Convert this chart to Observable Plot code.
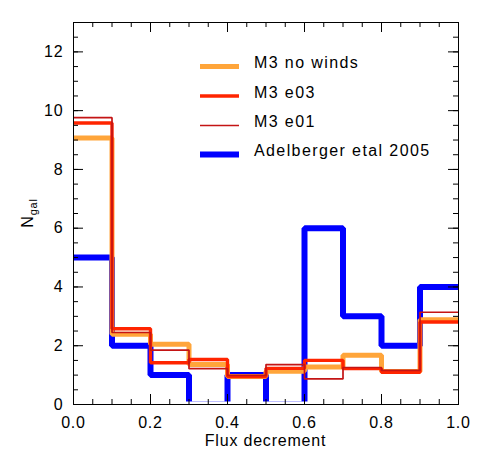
<!DOCTYPE html>
<html>
<head>
<meta charset="utf-8">
<script src="https://cdn.jsdelivr.net/npm/d3@7"></script>
<script src="https://cdn.jsdelivr.net/npm/@observablehq/plot@0.6"></script>
<style>
  html, body { margin: 0; padding: 0; background: white; }
  #chart { width: 480px; height: 450px; }
</style>
</head>
<body>
<div id="chart"></div>
<script>
// Bin edges of the flux-decrement histogram
const binEdges = [0, 0.1, 0.2, 0.3, 0.4, 0.5, 0.6, 0.7, 0.8, 0.9, 1.0];

// Counts per bin
const m3NoWinds   = [9.07, 2.39, 2.05, 1.36, 0.95, 1.13, 1.28, 1.68, 1.12, 2.88];
const m3e03       = [9.58, 2.58, 1.42, 1.53, 0.95, 1.23, 1.50, 1.22, 1.10, 2.81];
const m3e01       = [9.76, 2.45, 1.85, 1.22, 0.99, 1.36, 0.87, 1.26, 1.16, 3.14];
const adelberger  = [5, 2, 1, 0, 1, 0, 6, 3, 2, 4];

// Series labels
const seriesNames = ["M3 no winds", "M3 e03", "M3 e01", "Adelberger etal 2005"];

// Axis ticks
const xMajor = [0, 0.2, 0.4, 0.6, 0.8, 1.0];
const yMajor = [0, 2, 4, 6, 8, 10, 12];
const xMinor = d3.range(0, 1.0001, 0.05);
const yMinor = d3.range(0, 13.0001, 0.5);

const colors = ["#ffa53a", "#ff2400", "#c41414", "#0000ff"];
const widths = [5, 3.4, 1.7, 6];

function steps(values) {
  const pts = [];
  values.forEach((v, i) => {
    pts.push({x: binEdges[i], y: v});
    pts.push({x: binEdges[i + 1], y: v});
  });
  return pts;
}

const W = 480, H = 450, mL = 73, mR = 22, mT = 22, mB = 46;
const fw = W - mL - mR, fh = H - mT - mB;

const lineOpts = (i) => ({x: "x", y: "y", stroke: colors[i], strokeWidth: widths[i],
  strokeLinejoin: "miter", strokeLinecap: "butt", curve: "linear"});

const plot = Plot.plot({
  width: W, height: H,
  marginLeft: mL, marginRight: mR, marginTop: mT, marginBottom: mB,
  x: {domain: [0, 1]},
  y: {domain: [0, 13]},
  style: {fontFamily: "'Liberation Sans', Arial, sans-serif", fontSize: "16px", background: "white", color: "black"},
  marks: [
    Plot.line(steps(adelberger), lineOpts(3)),
    Plot.line(steps(m3NoWinds), lineOpts(0)),
    Plot.line(steps(m3e03), lineOpts(1)),
    Plot.line(steps(m3e01), lineOpts(2)),
    Plot.tickY(yMinor, {y: d => d, insetRight: fw - 5, stroke: "black"}),
    Plot.tickY(yMinor, {y: d => d, insetLeft: fw - 5, stroke: "black"}),
    Plot.tickY(yMajor, {y: d => d, insetRight: fw - 10, stroke: "black"}),
    Plot.tickY(yMajor, {y: d => d, insetLeft: fw - 10, stroke: "black"}),
    Plot.tickX(xMinor, {x: d => d, insetTop: fh - 5, stroke: "black"}),
    Plot.tickX(xMinor, {x: d => d, insetBottom: fh - 5, stroke: "black"}),
    Plot.tickX(xMajor, {x: d => d, insetTop: fh - 10, stroke: "black"}),
    Plot.tickX(xMajor, {x: d => d, insetBottom: fh - 10, stroke: "black"}),
    Plot.frame({stroke: "black", strokeWidth: 1}),
    Plot.axisX({ticks: xMajor, tickSize: 0, tickPadding: 12, tickFormat: d3.format(".1f"), label: null}),
    Plot.axisY({ticks: yMajor, tickSize: 0, tickPadding: 10, label: null})
  ]
});

const svg = d3.select(plot);
svg.style("letter-spacing", "0.8px");
const xs = plot.scale("x"), ys = plot.scale("y");

// Clip the thick observed histogram so segments lying on the x axis are hidden (as in the original)
const lineGroups = svg.selectAll("g[aria-label='line']").nodes();
if (lineGroups.length) {
  const defs = svg.append("defs");
  defs.append("clipPath").attr("id", "obsclip")
    .append("rect")
    .attr("x", xs.apply(0) - 5)
    .attr("y", ys.apply(13))
    .attr("width", xs.apply(1) - xs.apply(0) + 10)
    .attr("height", ys.apply(0) - ys.apply(13) - 3);
  d3.select(lineGroups[0]).attr("clip-path", "url(#obsclip)");
}

// Axis titles
svg.append("text")
  .attr("x", (xs.apply(0) + xs.apply(1)) / 2)
  .attr("y", 446)
  .attr("text-anchor", "middle")
  .attr("fill", "black")
  .style("font-size", "16px")
  .text("Flux decrement");

const yl = svg.append("text")
  .attr("transform", `translate(33,${(ys.apply(0) + ys.apply(13)) / 2}) rotate(-90)`)
  .attr("text-anchor", "middle")
  .attr("fill", "black")
  .style("font-size", "16px");
yl.append("tspan").text("N");
yl.append("tspan").attr("dy", 4).style("font-size", "11px").text("gal");

// Legend
const legY = [66.5, 96, 125.5, 154.5];
const leg = svg.append("g").attr("text-anchor", "start");
seriesNames.forEach((name, i) => {
  leg.append("line")
    .attr("x1", 200).attr("x2", 239)
    .attr("y1", legY[i]).attr("y2", legY[i])
    .attr("stroke", colors[i]).attr("stroke-width", widths[i]);
  leg.append("text")
    .attr("x", 254).attr("y", legY[i] + 1.5)
    .attr("text-anchor", "start")
    .attr("fill", "black")
    .style("font-size", "16px")
    .style("letter-spacing", "1.4px")
    .text(name);
});

document.getElementById("chart").appendChild(plot);
</script>
</body>
</html>
